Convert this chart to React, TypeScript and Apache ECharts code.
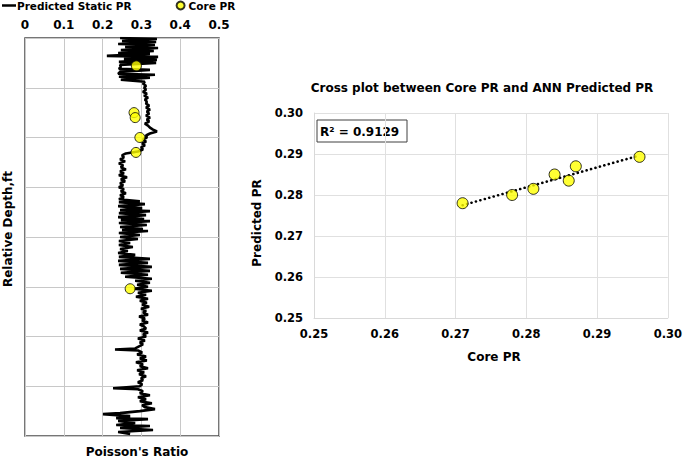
import React, { useEffect, useRef } from "react";
import * as echarts from "echarts";

// Left panel: predicted static Poisson's ratio log vs relative depth (ft)
const predictedDepthFt = [
  0, 1, 3, 4, 6, 7, 9, 10, 12, 13, 15, 16, 18, 19, 21, 22, 24, 25, 27, 29, 31, 32, 34, 36, 37, 39, 40, 42, 44, 46, 48,
  50, 52, 54, 56, 58, 60, 62, 64, 66, 68, 70, 72, 74, 76, 78, 80, 82, 84, 86, 88, 90, 92, 94, 96, 98, 100, 102, 104, 106, 108, 110, 112, 114, 116, 118, 120,
  122, 124, 126, 128, 130, 132, 134, 136, 138, 140, 142, 144, 146, 148, 150, 152, 154, 156, 158, 160, 162,
  164, 165, 167, 169, 171, 173, 174, 176, 178, 180, 182, 183, 184, 186, 188, 190, 192, 193, 194, 196, 198, 200, 202, 204,
  206, 208, 210, 212, 214, 216, 218, 220,
  222, 224, 226, 228, 230, 232, 234, 236, 238, 240, 242,
  244, 246, 248, 250, 252, 254, 256, 258, 260, 262,
  264, 266, 268, 270, 272, 274, 276, 278, 280, 282, 284, 286, 288, 290, 292, 294, 296, 298, 300, 302, 304, 306, 308, 310, 312, 313, 314, 316, 318, 320,
  322, 324, 326, 328, 330, 332, 334, 336, 338, 340, 342, 344, 346, 348, 350, 352, 353, 355, 357, 359, 361, 363, 365, 367, 369, 371, 373, 375, 377, 378,
  380, 382, 383, 385, 387, 389, 390, 392, 394, 396, 398,
];
const predictedStaticPR = [
  0.245, 0.34, 0.25, 0.338, 0.24, 0.335, 0.258, 0.343, 0.247, 0.332, 0.24, 0.322, 0.211, 0.343, 0.255, 0.34, 0.242, 0.338, 0.245, 0.247, 0.242, 0.322, 0.245, 0.24, 0.335, 0.242, 0.322, 0.247, 0.309, 0.304, 0.312,
  0.307, 0.312, 0.304, 0.314, 0.307, 0.317, 0.309, 0.314, 0.312, 0.32, 0.312, 0.322, 0.314, 0.32, 0.312, 0.322, 0.314, 0.32, 0.309, 0.317, 0.322, 0.33, 0.34, 0.322, 0.312, 0.314, 0.304, 0.312, 0.302, 0.309, 0.299, 0.304, 0.291, 0.26, 0.25, 0.255,
  0.245, 0.258, 0.242, 0.253, 0.247, 0.26, 0.245, 0.255, 0.242, 0.263, 0.247, 0.258, 0.245, 0.253, 0.242, 0.255, 0.247, 0.26, 0.245, 0.255, 0.242,
  0.296, 0.242, 0.309, 0.24, 0.302, 0.245, 0.322, 0.242, 0.312, 0.24, 0.307, 0.247, 0.322, 0.242, 0.314, 0.245, 0.304, 0.25, 0.317, 0.242, 0.296, 0.245, 0.291, 0.242,
  0.271, 0.242, 0.278, 0.245, 0.265, 0.24, 0.284, 0.242,
  0.322, 0.24, 0.317, 0.242, 0.327, 0.245, 0.322, 0.247, 0.317, 0.258, 0.327,
  0.284, 0.322, 0.289, 0.317, 0.281, 0.327, 0.291, 0.312, 0.286, 0.317,
  0.296, 0.314, 0.302, 0.32, 0.299, 0.312, 0.304, 0.317, 0.294, 0.309, 0.302, 0.317, 0.296, 0.307, 0.312, 0.296, 0.317, 0.304, 0.312, 0.291, 0.309, 0.296, 0.304, 0.294, 0.284, 0.232, 0.291, 0.302, 0.289, 0.312,
  0.296, 0.314, 0.286, 0.304, 0.296, 0.317, 0.289, 0.307, 0.294, 0.312, 0.299, 0.304, 0.291, 0.302, 0.296, 0.227, 0.291, 0.304, 0.296, 0.322, 0.291, 0.312, 0.296, 0.327, 0.302, 0.309, 0.335, 0.296, 0.245, 0.201,
  0.271, 0.235, 0.317, 0.24, 0.284, 0.235, 0.322, 0.245, 0.33, 0.24, 0.271,
];
const coreDepthFt = [28, 75, 80, 100, 115, 252];
const coreLogPR = [0.287, 0.281, 0.284, 0.296, 0.286, 0.271];
const poissonTicks = [0, 0.1, 0.2, 0.3, 0.4, 0.5];

// Right panel: cross plot
const crossCorePR = [0.271, 0.278, 0.281, 0.284, 0.286, 0.287, 0.296];
const crossPredictedPR = [0.278, 0.28, 0.2815, 0.285, 0.2835, 0.287, 0.2893];
const crossTicks = [0.25, 0.26, 0.27, 0.28, 0.29, 0.3];
const rSquaredLabel = "R² = 0.9129";

const FONT = "DejaVu Sans";

function linearFit(xs: number[], ys: number[]) {
  const n = xs.length;
  const mx = xs.reduce((a, b) => a + b, 0) / n;
  const my = ys.reduce((a, b) => a + b, 0) / n;
  let sxy = 0;
  let sxx = 0;
  for (let i = 0; i < n; i++) {
    sxy += (xs[i] - mx) * (ys[i] - my);
    sxx += (xs[i] - mx) * (xs[i] - mx);
  }
  const slope = sxy / sxx;
  return { slope, intercept: my - slope * mx };
}

export default function App() {
  const ref = useRef<HTMLDivElement>(null);
  useEffect(() => {
    if (!ref.current) return;
    const chart = echarts.init(ref.current, null, { renderer: "svg" });
    const fit = linearFit(crossCorePR, crossPredictedPR);
    const xMin = Math.min(...crossCorePR);
    const xMax = Math.max(...crossCorePR);
    const trend = [
      [xMin, fit.intercept + fit.slope * xMin],
      [xMax, fit.intercept + fit.slope * xMax],
    ];
    const boldText = { fontFamily: FONT, fontWeight: "bold", color: "#000" };
    chart.setOption({
      animation: false,
      backgroundColor: "#fff",
      textStyle: { fontFamily: FONT },
      legend: {
        left: 2,
        top: 0,
        padding: 0,
        itemWidth: 14,
        itemHeight: 8,
        itemGap: 44,
        symbolKeepAspect: true,
        textStyle: { ...boldText, fontSize: 10.5, padding: [0, 0, 0, -4] },
        data: [
          { name: "Predicted Static PR", icon: "path://M0,0H28V5H0Z", itemStyle: { color: "#000", borderWidth: 0 } },
          { name: "Core PR", icon: "circle" },
        ],
      },
      grid: [
        { left: 25, top: 38, width: 194, height: 398, show: true, borderColor: "#4a4a4a", borderWidth: 1.5, backgroundColor: "transparent" },
        { left: 314, top: 113, width: 356, height: 205 },
      ],
      xAxis: [
        {
          gridIndex: 0,
          type: "value",
          position: "top",
          min: poissonTicks[0],
          max: poissonTicks[poissonTicks.length - 1],
          interval: 0.1,
          axisLine: { show: false },
          axisTick: { show: false },
          splitLine: { show: true, lineStyle: { color: "#c8c8c8", width: 1 } },
          axisLabel: { ...boldText, fontSize: 12, margin: 7 },
        },
        {
          gridIndex: 1,
          type: "value",
          min: crossTicks[0],
          max: crossTicks[crossTicks.length - 1],
          interval: 0.01,
          axisLine: { show: true, lineStyle: { color: "#d9d9d9" } },
          axisTick: { show: false },
          splitLine: { show: true, lineStyle: { color: "#e0e0e0", width: 1 } },
          axisLabel: { ...boldText, fontSize: 11.5, margin: 10, formatter: (v: number) => v.toFixed(2) },
        },
      ],
      yAxis: [
        {
          gridIndex: 0,
          type: "value",
          inverse: true,
          min: 0,
          max: 400,
          interval: 50,
          axisLine: { show: false },
          axisTick: { show: false },
          axisLabel: { show: false },
          splitLine: { show: true, lineStyle: { color: "#c8c8c8", width: 1 } },
        },
        {
          gridIndex: 1,
          type: "value",
          min: crossTicks[0],
          max: crossTicks[crossTicks.length - 1],
          interval: 0.01,
          axisLine: { show: true, lineStyle: { color: "#d9d9d9" } },
          axisTick: { show: false },
          splitLine: { show: true, lineStyle: { color: "#e0e0e0", width: 1 } },
          axisLabel: { ...boldText, fontSize: 11.5, margin: 11, formatter: (v: number) => v.toFixed(2) },
        },
      ],
      series: [
        {
          name: "Predicted Static PR",
          type: "line",
          xAxisIndex: 0,
          yAxisIndex: 0,
          symbol: "none",
          lineStyle: { color: "#000", width: 2.6 },
          itemStyle: { color: "#000" },
          data: predictedDepthFt.map((d, i) => [predictedStaticPR[i], d]),
          z: 2,
        },
        {
          name: "Core PR",
          type: "scatter",
          xAxisIndex: 0,
          yAxisIndex: 0,
          symbol: "circle",
          symbolSize: 10,
          itemStyle: { color: "#ffff00", borderColor: "#000", borderWidth: 1 },
          data: coreDepthFt.map((d, i) => [coreLogPR[i], d]),
          z: 3,
        },
        {
          name: "Trendline",
          type: "line",
          xAxisIndex: 1,
          yAxisIndex: 1,
          symbol: "none",
          lineStyle: { color: "#000", width: 2.6, type: [0.1, 4.5], cap: "round" },
          data: trend,
          z: 2,
        },
        {
          name: "Cross",
          type: "scatter",
          xAxisIndex: 1,
          yAxisIndex: 1,
          symbol: "circle",
          symbolSize: 11,
          itemStyle: { color: "#ffff00", borderColor: "#000", borderWidth: 1 },
          data: crossCorePR.map((x, i) => [x, crossPredictedPR[i]]),
          z: 3,
        },
      ],
      graphic: [
        {
          type: "text",
          x: 8,
          y: 229,
          rotation: Math.PI / 2,
          style: { text: "Relative Depth,ft", font: `bold 12px "${FONT}"`, fill: "#000", align: "center", verticalAlign: "middle" },
        },
        {
          type: "text",
          x: 137,
          y: 452,
          style: { text: "Poisson's Ratio", font: `bold 12px "${FONT}"`, fill: "#000", align: "center", verticalAlign: "middle" },
        },
        {
          type: "text",
          x: 482,
          y: 88,
          style: { text: "Cross plot between Core PR and ANN Predicted PR", font: `bold 12px "${FONT}"`, fill: "#000", align: "center", verticalAlign: "middle" },
        },
        {
          type: "text",
          x: 257,
          y: 223,
          rotation: Math.PI / 2,
          style: { text: "Predicted PR", font: `bold 12px "${FONT}"`, fill: "#000", align: "center", verticalAlign: "middle" },
        },
        {
          type: "text",
          x: 494,
          y: 357,
          style: { text: "Core PR", font: `bold 12px "${FONT}"`, fill: "#000", align: "center", verticalAlign: "middle" },
        },
        {
          type: "group",
          x: 317,
          y: 120,
          children: [
            { type: "rect", shape: { x: 0, y: 0, width: 90, height: 22 }, style: { fill: "#fff", stroke: "#404040", lineWidth: 1 } },
            { type: "text", x: 3, y: 11.5, style: { text: rSquaredLabel, font: `bold 12px "${FONT}"`, fill: "#000", align: "left", verticalAlign: "middle" } },
          ],
        },
      ],
    });
    return () => chart.dispose();
  }, []);
  return <div ref={ref} style={{ position: "fixed", left: 0, top: 0, width: 685, height: 458 }} />;
}
